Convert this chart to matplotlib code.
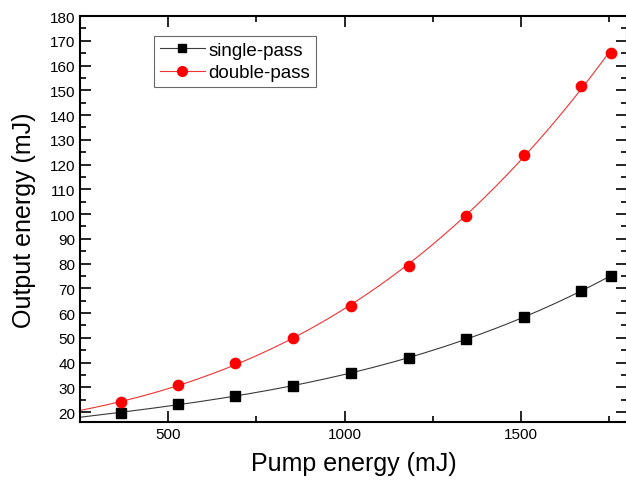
import numpy as np
import matplotlib
matplotlib.use("Agg")
import matplotlib.pyplot as plt
from matplotlib.ticker import MultipleLocator

plt.rcParams['font.family'] = ['Liberation Sans', 'DejaVu Sans']

# pump energy (mJ) and output energy (mJ)
pump = [366, 529, 689, 854, 1018, 1181, 1343, 1508, 1670, 1755]
single_pass = [19.8, 23.1, 26.7, 30.7, 35.6, 41.8, 49.5, 58.6, 69.0, 75.0]
double_pass = [23.9, 31.0, 39.8, 50.0, 63.0, 79.0, 99.2, 124.0, 151.7, 165.2]

fig = plt.figure(figsize=(6.26, 4.81), dpi=100)
ax = fig.add_axes([80 / 626, 58 / 481, 547 / 626, 406 / 481])

x_lo = 250
# smooth fitted curves drawn from the left edge up to the last point
xx = np.linspace(x_lo, pump[-1], 300)
fit_s = np.polyval(np.polyfit(pump, single_pass, 3), xx)
fit_d = np.polyval(np.polyfit(pump, double_pass, 3), xx)
ax.plot(xx, fit_s, color='#3a3a3a', lw=0.8, zorder=2)
ax.plot(xx, fit_d, color='#ee3333', lw=0.8, zorder=2)

ax.plot(pump, single_pass, ls='none', marker='s', ms=6.6, color='black', zorder=3)
ax.plot(pump, double_pass, ls='none', marker='o', ms=7.4, color='red', zorder=3)

# legend handles (line + marker)
h1, = ax.plot([], [], color='#3a3a3a', lw=0.8, marker='s', ms=6, mfc='black', mec='black')
h2, = ax.plot([], [], color='#ee3333', lw=0.8, marker='o', ms=7, mfc='red', mec='red')
leg = ax.legend([h1, h2], ['single-pass', 'double-pass'], loc='upper left',
                bbox_to_anchor=(154 / 626, 1 - 37 / 481), bbox_transform=fig.transFigure,
                fontsize=13.5, frameon=True, fancybox=False, handlelength=2.4,
                handletextpad=0.2, borderpad=0.3, borderaxespad=0, labelspacing=0.3)
leg.get_frame().set_edgecolor('#444444')
leg.get_frame().set_linewidth(0.8)

ax.set_xlim(x_lo, 1800)
ax.set_ylim(16, 180)
ax.xaxis.set_major_locator(MultipleLocator(500))
ax.xaxis.set_minor_locator(MultipleLocator(250))
ax.yaxis.set_minor_locator(MultipleLocator(5))
ax.set_yticks(np.arange(20, 181, 10))

ax.tick_params(which='both', direction='in', top=True, right=True, labelsize=11, width=1.2)
ax.tick_params(which='major', length=8)
ax.tick_params(which='minor', length=4)
for sp in ax.spines.values():
    sp.set_linewidth(1.5)

ax.set_xlabel('Pump energy (mJ)', fontsize=18, labelpad=7)
ax.set_ylabel('Output energy (mJ)', fontsize=18, labelpad=10)

fig.savefig('out.png', dpi=100)
